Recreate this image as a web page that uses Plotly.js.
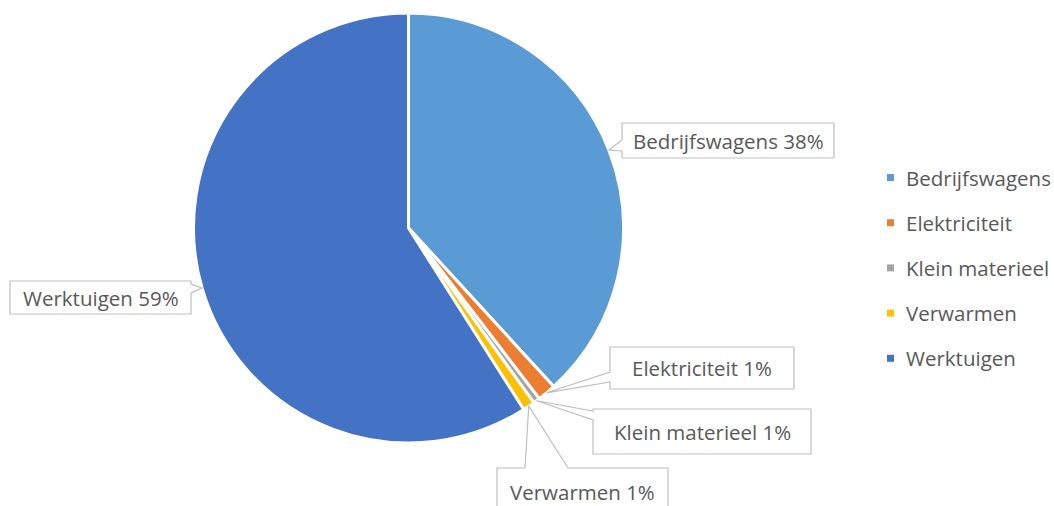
<!DOCTYPE html>
<html>
<head>
<meta charset="utf-8">
<script src="https://cdn.plot.ly/plotly-3.0.1.min.js"></script>
<style>html,body{margin:0;padding:0;background:#fff;}#chart{width:1054px;height:506px;}</style>
</head>
<body>
<div id="chart"></div>
<script>
// ---- data ----
const labels = ['Bedrijfswagens', 'Elektriciteit', 'Klein materieel', 'Verwarmen', 'Werktuigen'];
const values = [38.2, 1.4, 0.5, 0.9, 59.0];
const colors = ['#5B9BD5', '#ED7D31', '#A5A5A5', '#FFC000', '#4472C4'];

// ---- layout constants (pixels) ----
const W = 1054, H = 506;
const CX = 408.5, CY = 228, R = 215;
const FONT = {family: 'Open Sans, sans-serif', size: 20.5, color: '#595959'};
const LINE = '#BFBFBF';

// callout boxes: [x0, x1, y0, y1, wedge side, base a, base b]
const callouts = [
  [622, 834, 123, 158, 'left', 140, 151],
  [610, 794, 347, 389, 'left', 372, 382],
  [593, 811, 409, 454, 'left', 411, 420],
  [497, 668, 468, 516, 'top', 525, 568],
  [10, 191, 281, 314, 'right', 284, 293]
];
const legendX = 887, legendY0 = 177.5, legendDY = 45.2, legendSq = 7;

const px = x => x / W;
const py = y => 1 - y / H;
const P = (x, y) => px(x).toFixed(5) + ',' + py(y).toFixed(5);

const total = values.reduce((a, b) => a + b, 0);
let cum = 0;
const shapes = [];
const annotations = [];
values.forEach((v, i) => {
  const mid = (cum + v / 2) / total * 2 * Math.PI;
  cum += v;
  const tx = CX + R * Math.sin(mid);
  const ty = CY - R * Math.cos(mid);
  const [x0, x1, y0, y1, side, a, b] = callouts[i];
  let path;
  if (side === 'left') {
    path = `M${P(x0,y0)} L${P(x1,y0)} L${P(x1,y1)} L${P(x0,y1)} L${P(x0,b)} L${P(tx,ty)} L${P(x0,a)} Z`;
  } else if (side === 'right') {
    path = `M${P(x0,y0)} L${P(x1,y0)} L${P(x1,a)} L${P(tx,ty)} L${P(x1,b)} L${P(x1,y1)} L${P(x0,y1)} Z`;
  } else {
    path = `M${P(x0,y0)} L${P(a,y0)} L${P(tx,ty)} L${P(b,y0)} L${P(x1,y0)} L${P(x1,y1)} L${P(x0,y1)} Z`;
  }
  shapes.push({type: 'path', xref: 'paper', yref: 'paper', path: path,
    fillcolor: 'white', line: {color: LINE, width: 1.2}, layer: 'above'});
  const pct = Math.round(v / total * 100);
  annotations.push({xref: 'paper', yref: 'paper', x: px((x0 + x1) / 2), y: py((y0 + y1) / 2),
    xanchor: 'center', yanchor: 'middle', showarrow: false,
    text: labels[i] + ' ' + pct + '%', font: FONT});

  // manual legend
  const ly = legendY0 + i * legendDY;
  shapes.push({type: 'rect', xref: 'paper', yref: 'paper',
    x0: px(legendX), x1: px(legendX + legendSq), y0: py(ly - legendSq / 2), y1: py(ly + legendSq / 2),
    fillcolor: colors[i], line: {width: 0}});
  annotations.push({xref: 'paper', yref: 'paper', x: px(legendX + 17), y: py(ly),
    xanchor: 'left', yanchor: 'middle', showarrow: false, text: labels[i], font: FONT});
});

const trace = {
  type: 'pie',
  labels: labels,
  values: values,
  sort: false,
  direction: 'clockwise',
  rotation: 0,
  textinfo: 'none',
  hoverinfo: 'label+percent',
  marker: {colors: colors, line: {color: 'white', width: 3}},
  domain: {x: [px(CX - R), px(CX + R)], y: [py(CY + R), py(CY - R)]},
  showlegend: false
};

const layout = {
  width: W, height: H,
  margin: {l: 0, r: 0, t: 0, b: 0},
  paper_bgcolor: 'white',
  showlegend: false,
  shapes: shapes,
  annotations: annotations
};

Plotly.newPlot('chart', [trace], layout, {displayModeBar: false, staticPlot: true});
</script>
</body>
</html>
